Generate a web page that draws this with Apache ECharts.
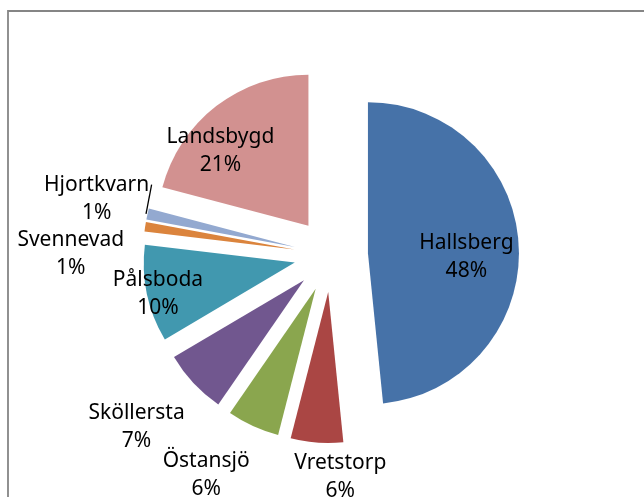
<!DOCTYPE html>
<html>
<head>
<meta charset="utf-8">
<script src="https://cdn.jsdelivr.net/npm/echarts@6/dist/echarts.min.js"></script>
<style>
html, body { margin: 0; padding: 0; background: #fff; }
#chart { width: 644px; height: 497px; }
</style>
</head>
<body>
<div id="chart"></div>
<script>
// andelar i procent, medurs från kl 12
var names = ['Hallsberg', 'Vretstorp', 'Östansjö', 'Sköllersta', 'Pålsboda', 'Svennevad', 'Hjortkvarn', 'Landsbygd'];
var values = [48.4, 5.6, 5.6, 6.9, 10.4, 1.0, 1.2, 20.9];
var colors = ['#4672a8', '#aa4644', '#8aa64e', '#71578f', '#4198af', '#db843d', '#93a9d0', '#d29190'];

// flytt av etiketterna (px) från bibliotekets läge
var labelMove = [[20, 8], [18, 107], [-77, 115], [-110, 93], [-60, 15], [-146, 16], [14, -14], [-40, -12]];

var myChart = echarts.init(document.getElementById('chart'));

var data = names.map(function (n, i) {
    var item = {
        name: n,
        value: values[i],
        selected: true,
        itemStyle: { color: colors[i] }
    };
    if (n == 'Hjortkvarn') {
        item.label = { position: 'outside' };
        item.labelLine = { show: true, length: 4, length2: 0, lineStyle: { color: '#000', width: 1.3 } };
    }
    return item;
});

var option = {
    animation: false,
    backgroundColor: '#fff',
    graphic: [{
        type: 'rect',
        shape: { x: 8, y: 11, width: 700, height: 600 },
        style: { fill: 'none', stroke: '#858585', lineWidth: 1.8 },
        silent: true
    }],
    series: [{
        type: 'pie',
        center: [331, 255],
        radius: 151,
        startAngle: 90,
        clockwise: true,
        selectedMode: 'multiple',
        selectedOffset: 37,
        percentPrecision: 0,
        avoidLabelOverlap: false,
        label: {
            show: true,
            position: 'inside',
            formatter: '{a|{b}}\n{a|{d}%}',
            color: '#000',
            rich: {
                a: {
                    fontFamily: 'Noto Sans',
                    fontSize: 21,
                    lineHeight: 28,
                    color: '#000',
                    width: 112,
                    align: 'center'
                }
            }
        },
        labelLine: { show: false },
        labelLayout: function (p) {
            var mv = labelMove[p.dataIndex];
            var res = { dx: mv[0], dy: mv[1] };
            if (p.labelLinePoints && p.labelRect) {
                var r = p.labelRect;
                var start = p.labelLinePoints[0];
                res.labelLinePoints = [
                    [start[0] - 1.5, start[1]],
                    [r.x + mv[0] + r.width - 1, r.y + mv[1] + 10]
                ];
            }
            return res;
        },
        emphasis: { disabled: true },
        data: data
    }]
};
myChart.setOption(option);
</script>
</body>
</html>
